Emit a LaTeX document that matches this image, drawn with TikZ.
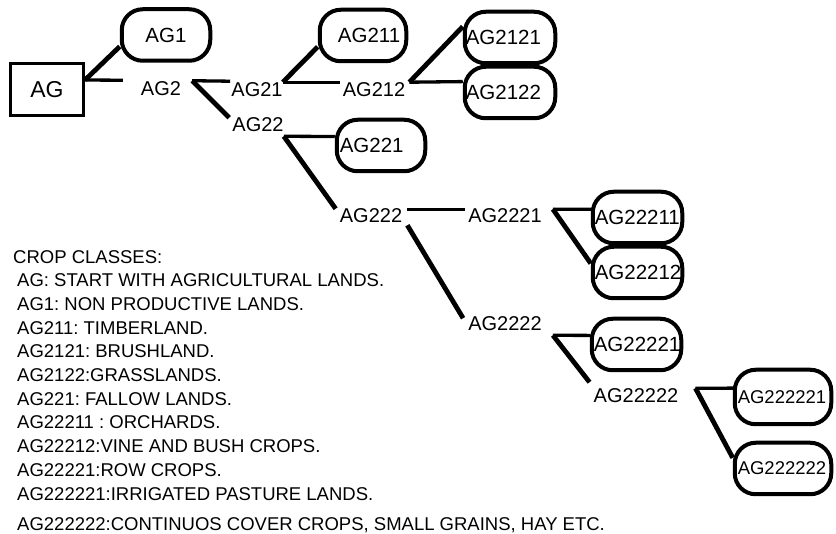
\documentclass[tikz,border=0pt]{standalone}
\usepackage{fontspec}
\setmainfont{Liberation Sans}
\usetikzlibrary{calc,backgrounds}
\frenchspacing
\begin{document}
\begin{tikzpicture}[x=1pt,y=-1pt,
  lbl/.style={inner sep=0pt, font=\fontsize{20}{24}\selectfont},
  rbox/.style={draw, line width=4pt, rounded corners=21pt, fill=white, minimum height=51.5pt, inner ysep=0pt, font=\fontsize{20.5}{24}\selectfont},
  hl/.style={line width=3.3pt},
  dl/.style={line width=4.8pt},
  legend/.style={anchor=base west, inner sep=0pt, font=\fontsize{18.5}{22}\selectfont}]
\useasboundingbox (0,0) rectangle (836,534);
% root
\node[draw, line width=3.3pt, minimum width=72.7pt, minimum height=51.7pt, inner sep=0pt, font=\fontsize{23}{27}\selectfont] (ag) at (47,89.5) {AG};
% text labels
\node[lbl] (ag2) at (161,89) {AG2};
\node[lbl] (ag21) at (257,90) {AG21};
\node[lbl] (ag22) at (258,125) {AG22};
\node[lbl] (ag212) at (374,90) {AG212};
\node[lbl] (ag222) at (371,216) {AG222};
\node[lbl] (ag2221) at (505,216) {AG2221};
\node[lbl] (ag2222) at (505,324) {AG2222};
\node[lbl] (ag22222) at (636,395.5) {AG22222};
% rounded boxes
\node[rbox, text width=82.5pt, inner xsep=3pt, align=center] (ag1) at (166,35) {AG1};
\node[rbox, text width=74.5pt, inner xsep=6pt, align=right] (ag211) at (363,35.5) {AG211};
\node[rbox, text width=88.5pt, inner xsep=1pt, align=left] (ag2121) at (510,37.5) {AG2121};
\node[rbox, text width=88.5pt, inner xsep=1pt, align=left] (ag2122) at (510,92.5) {AG2122};
\node[rbox, text width=82.5pt, inner xsep=3pt, align=left] (ag221) at (381,145.5) {AG221};
\node[rbox, text width=85.5pt, inner xsep=2pt, align=left] (ag22211) at (637.5,217.5) {AG22211};
\node[rbox, text width=85.5pt, inner xsep=2pt, align=left] (ag22212) at (637.5,272.5) {AG22212};
\node[rbox, text width=85.5pt, inner xsep=2pt, align=left] (ag22221) at (636.5,344.5) {AG22221};
\node[rbox, text width=90.5pt, inner xsep=3pt, align=left, minimum height=54.5pt, font=\fontsize{18.5}{22}\selectfont] (ag222221) at (783,397) {AG222221};
\node[rbox, text width=90.5pt, inner xsep=3pt, align=left, font=\fontsize{18.5}{22}\selectfont] (ag222222) at (783,468.5) {AG222222};
% legend
\node[legend] (lg0) at (13,263.5) {CROP CLASSES:};
\node[legend] (lg1) at (17,287) {AG: START WITH AGRICULTURAL LANDS.};
\node[legend] (lg2) at (17,310.7) {AG1: NON PRODUCTIVE LANDS.};
\node[legend] (lg3) at (17,334.4) {AG211: TIMBERLAND.};
\node[legend] (lg4) at (17,358) {AG2121: BRUSHLAND.};
\node[legend] (lg5) at (17,381.7) {AG2122:GRASSLANDS.};
\node[legend] (lg6) at (17,405.4) {AG221: FALLOW LANDS.};
\node[legend] (lg7) at (17,429) {AG22211 : ORCHARDS.};
\node[legend] (lg8) at (17,452.7) {AG22212:VINE AND BUSH CROPS.};
\node[legend] (lg9) at (17,476.4) {AG22221:ROW CROPS.};
\node[legend] (lg10) at (17,500.5) {AG222221:IRRIGATED PASTURE LANDS.};
\node[legend] (lg11) at (17,530.5) {AG222222:CONTINUOS COVER CROPS, SMALL GRAINS, HAY ETC.};
% connectors
\begin{pgfonlayer}{background}
\fill[white] (0,0) rectangle (836,534);
\draw[dl] (ag.14) -- (ag1.194);
\draw[hl] (ag.14) -- ([shift={(-18,-1.5)}]ag2.north west);
\draw[hl] ([shift={(11,-1)}]ag2.north east) -- ([shift={(-1,-1.5)}]ag21.north west);
\draw[dl] ([shift={(11,-1)}]ag2.north east) -- ([shift={(-3,0)}]ag22.north west);
\draw[dl] ([shift={(0,-0.5)}]ag21.north east) -- (ag211.194);
\draw[hl] ([shift={(0,-0.5)}]ag21.north east) -- ([shift={(-3,-0.5)}]ag212.north west);
\draw[dl] ([shift={(4,-0.5)}]ag212.north east) -- (ag2121.167);
\draw[hl] ([shift={(4,-0.5)}]ag212.north east) -- (ag2122.167);
\draw[hl] ([shift={(0,4)}]ag22.south east) -- (ag221.169);
\draw[dl] ([shift={(0,4)}]ag22.south east) -- ([shift={(-4,0)}]ag222.north west);
\draw[hl] ([shift={(5,0.5)}]ag222.north east) -- ([shift={(-3,0.5)}]ag2221.north west);
\draw[dl] ([shift={(5,2)}]ag222.south east) -- ([shift={(-5,1.5)}]ag2222.north west);
\draw[hl] ([shift={(11,0.5)}]ag2221.north east) -- (ag22211.170);
\draw[dl] ([shift={(11,0.5)}]ag2221.north east) -- (ag22212.169);
\draw[hl] ([shift={(11,4)}]ag2222.south east) -- (ag22221.169);
\draw[dl] ([shift={(11,4)}]ag2222.south east) -- ([shift={(-4,-6)}]ag22222.north west);
\draw[hl] ([shift={(17,0)}]ag22222.north east) -- (ag222221.170);
\draw[dl] ([shift={(17,0)}]ag22222.north east) -- (ag222222.168);
\end{pgfonlayer}
\end{tikzpicture}
\end{document}
